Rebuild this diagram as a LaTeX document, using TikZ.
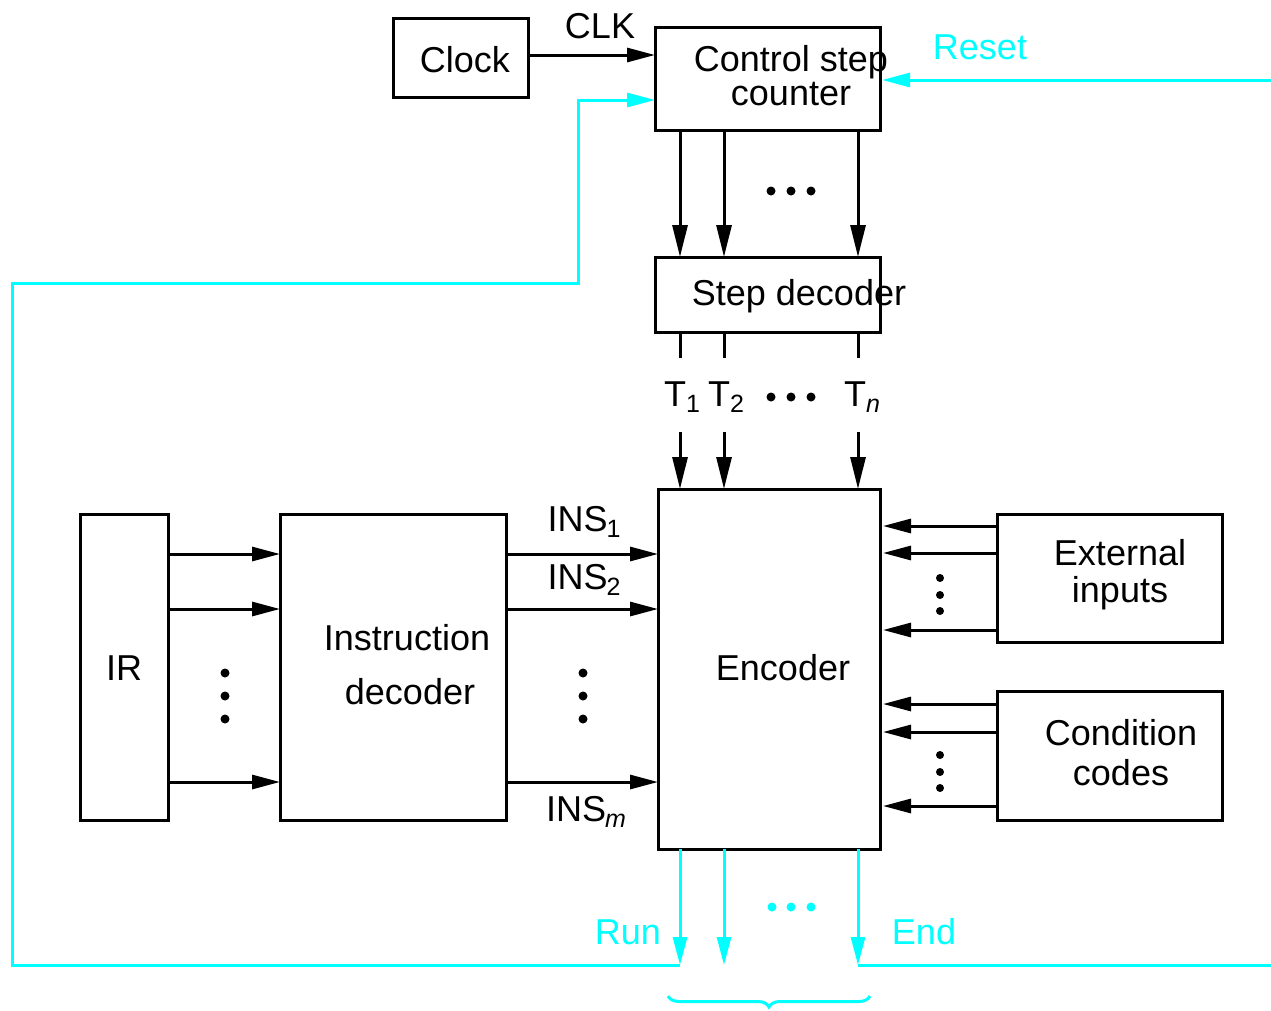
\documentclass[tikz,border=0pt]{standalone}
\usepackage{fontspec}
\setmainfont{Liberation Sans}
\usetikzlibrary{arrows.meta,decorations.pathreplacing}
\definecolor{sig}{RGB}{0,255,255}
\newcommand\lowidx[1]{\raisebox{-6pt}{\fontsize{25}{25}\selectfont #1}}
\begin{document}
\begin{tikzpicture}[x=1pt,y=-1pt,
  box/.style={draw,line width=3pt,inner sep=0pt,outer sep=0pt},
  lbl/.style={inner sep=0pt,outer sep=0pt,font=\fontsize{36}{36}\selectfont,align=center},
  wire/.style={line width=3pt},
  arr/.style={wire,-{Triangle[length=28pt,width=14pt]}},
  varr/.style={wire,-{Triangle[length=32pt,width=15pt]}},
  cyline/.style={wire,draw=sig},
  cyarr/.style={arr,draw=sig},
  blob/.style={fill=black},
]
\useasboundingbox (0,0) rectangle (1271,1010);

% column positions of the step lines
\coordinate (c1) at (680,0);
\coordinate (c2) at (724,0);
\coordinate (c3) at (858,0);

% blocks
\node[box,minimum width=135pt,minimum height=79pt] (clock) at (460.5,57.5) {};
\node[lbl] (clockt) at (465,60) {Clock};
\node[box,minimum width=225pt,minimum height=103pt] (csc) at (767.5,78.5) {};
\node[lbl,font=\fontsize{36}{34}\selectfont] (csct) at (791,76) {Control step\\counter};
\node[box,minimum width=225pt,minimum height=75pt] (sd) at (767.5,294.5) {};
\node[lbl] (sdt) at (799,296) {Step decoder};
\node[box,minimum width=222pt,minimum height=360pt] (enc) at (769,669) {};
\node[lbl] (enct) at (783,668) {Encoder};
\node[box,minimum width=88pt,minimum height=306pt] (ir) at (124,667) {};
\node[lbl] (irt) at (124,668) {IR};
\node[box,minimum width=226pt,minimum height=306pt] (idec) at (393,667) {};
\node[lbl,font=\fontsize{36}{54}\selectfont] (idect) at (407,665) {Instruction\\\hspace*{6pt}decoder};
\node[box,minimum width=225pt,minimum height=128pt] (ext) at (1109.5,578) {};
\node[lbl,font=\fontsize{36}{37}\selectfont] (extt) at (1120,575) {External\\inputs};
\node[box,minimum width=225pt,minimum height=129pt] (cc) at (1109.5,755.5) {};
\node[lbl,font=\fontsize{36}{40}\selectfont] (cct) at (1121,753) {Condition\\codes};

% clock to counter
\node[lbl] (clk) at (600,26) {CLK};
\draw[arr] (clock.east |- 0,55) -- (csc.west |- 0,55);

% counter to step decoder
\foreach \c in {c1,c2,c3}
  \draw[varr] (csc.south -| \c) -- (sd.north -| \c);
\foreach \x in {771,791,811} \fill[blob] (\x,191) circle (4.5pt);

% step decoder outputs T1 ... Tn
\node[lbl] (t1) at (682,397) {T\lowidx{1}};
\node[lbl] (t2) at (726,397) {T\lowidx{2}};
\node[lbl] (tn) at (862,397) {T\lowidx{\itshape n}};
\foreach \x in {771,791,811} \fill[blob] (\x,397) circle (4.5pt);
\foreach \c in {c1,c2,c3}{
  \draw[wire] (sd.south -| \c) -- (\c |- 0,358);
  \draw[varr] (\c |- 0,432) -- (enc.north -| \c);
}

% IR to instruction decoder
\foreach \y in {554,609,782}
  \draw[arr] (ir.east |- 0,\y) -- (idec.west |- 0,\y);
\foreach \y in {673,696,719} \fill[blob] (225,\y) circle (4.5pt);

% instruction decoder to encoder
\foreach \y in {554,609,782}
  \draw[arr] (idec.east |- 0,\y) -- (enc.west |- 0,\y);
\node[lbl] (ins1) at (584,522) {INS\kern-1pt\lowidx{1}};
\node[lbl] (ins2) at (584,580) {INS\kern-1pt\lowidx{2}};
\node[lbl] (insm) at (586,812) {INS\kern-1pt\lowidx{\itshape m}};
\foreach \y in {673,696,719} \fill[blob] (583,\y) circle (4.5pt);

% external inputs and condition codes to encoder
\foreach \y in {526,553,630}
  \draw[arr] (ext.west |- 0,\y) -- ([xshift=3pt]enc.east |- 0,\y);
\foreach \y in {578,595,611} \fill[blob] (940,\y) circle (4pt);
\foreach \y in {704,732,806}
  \draw[arr] (cc.west |- 0,\y) -- ([xshift=3pt]enc.east |- 0,\y);
\foreach \y in {755,772,788} \fill[blob] (940,\y) circle (4pt);

% reset input
\node[lbl,text=sig] (reset) at (980,47) {Reset};
\draw[cyarr] (1271,80) -- ([xshift=2pt]csc.east |- 0,80);

% encoder outputs
\coordinate (runend) at (680,965);
\coordinate (endend) at (858,965);
\foreach \c in {c1,c2,c3}
  \draw[cyarr] (enc.south -| \c) -- (\c |- 0,965);
\foreach \x in {772,791,811} \fill[sig] (\x,907) circle (4.5pt);
\node[lbl,text=sig] (run) at (628,932) {Run};
\node[lbl,text=sig] (endt) at (924,932) {End};
\draw[cyline] (endend) -- (1271,965);

% run feeds back to the counter
\draw[cyarr] (runend) -- (12,965) -- (12,283) -- (578,283) -- (578,100) -- (csc.west |- 0,100);

% grouping brace below the outputs
\draw[cyline,decorate,decoration={brace,mirror,amplitude=11pt}] (668,996) -- (870,996);
\end{tikzpicture}
\end{document}
